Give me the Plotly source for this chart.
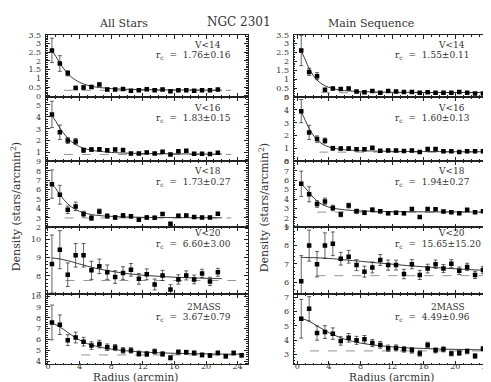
import plotly.graph_objects as go
from plotly.subplots import make_subplots

# radii of the annuli (arcmin)
R_SHORT = [0.5, 1.5, 2.5, 3.5, 4.5, 5.5, 6.5, 7.5, 8.5, 9.5, 10.5, 11.5,
           12.5, 13.5, 14.5, 15.5, 16.5, 17.5, 18.5, 19.5, 20.5, 21.5]
R_LONG = R_SHORT + [22.5, 23.5, 24.5]
# radii where the fitted King curves were read
FIT_R = [0.5, 1, 1.5, 2, 2.5, 3, 3.5, 4, 5, 6, 7, 8, 10, 12, 14, 16, 18, 20, 22]
FIT_R_LONG = FIT_R + [24.5]

# ---- All Stars ----
all_v14 = [2.60, 1.85, 1.29, 0.45, 0.47, 0.50, 0.65, 0.36, 0.36, 0.39, 0.28,
           0.32, 0.37, 0.32, 0.36, 0.26, 0.32, 0.32, 0.28, 0.32, 0.32, 0.36]
all_v14_err = [0.70, 0.45, 0.15, 0.10, 0.10, 0.09, 0.09, 0.07, 0.07, 0.07, 0.06,
               0.06, 0.06, 0.06, 0.06, 0.05, 0.05, 0.05, 0.05, 0.05, 0.05, 0.05]
all_v14_fit = [2.60, 2.25, 1.88, 1.55, 1.28, 1.06, 0.90, 0.77, 0.60, 0.50, 0.45,
               0.41, 0.37, 0.35, 0.34, 0.33, 0.33, 0.32, 0.32]

all_v16 = [4.19, 2.70, 2.02, 1.94, 1.20, 1.26, 1.28, 1.20, 1.26, 1.23, 0.93,
           0.93, 1.02, 0.93, 1.07, 0.85, 1.12, 1.15, 0.91, 0.91, 0.88, 1.00]
all_v16_err = [1.10, 0.60, 0.25, 0.25, 0.18, 0.15, 0.14, 0.13, 0.12, 0.11, 0.10,
               0.10, 0.10, 0.09, 0.09, 0.09, 0.08, 0.08, 0.08, 0.08, 0.08, 0.08]
all_v16_fit = [4.10, 3.60, 3.05, 2.60, 2.20, 1.90, 1.68, 1.50, 1.28, 1.15, 1.08,
               1.02, 0.96, 0.93, 0.91, 0.90, 0.89, 0.88, 0.88]

all_v18 = [6.59, 5.46, 3.87, 4.23, 3.41, 2.99, 3.70, 3.20, 3.06, 3.27, 3.17,
           2.81, 3.06, 3.03, 3.41, 2.38, 3.23, 3.27, 3.10, 3.06, 3.06, 3.45]
all_v18_err = [1.50, 1.00, 0.40, 0.45, 0.30, 0.25, 0.25, 0.22, 0.20, 0.20, 0.18,
               0.17, 0.16, 0.15, 0.15, 0.14, 0.14, 0.13, 0.13, 0.12, 0.12, 0.12]
all_v18_fit = [6.60, 6.10, 5.50, 4.95, 4.50, 4.15, 3.90, 3.70, 3.45, 3.30, 3.22,
               3.17, 3.10, 3.07, 3.05, 3.04, 3.03, 3.03, 3.02]

all_v20 = [8.65, 9.44, 8.06, 9.13, 9.13, 8.30, 8.52, 8.20, 7.93, 8.15, 8.33,
           7.83, 8.08, 7.52, 8.02, 7.24, 7.80, 8.02, 7.80, 8.13, 7.69, 8.19]
all_v20_err = [1.60, 1.05, 0.65, 0.65, 0.65, 0.50, 0.40, 0.40, 0.35, 0.35, 0.35,
               0.30, 0.30, 0.30, 0.28, 0.27, 0.26, 0.25, 0.24, 0.23, 0.23, 0.22]
all_v20_fit = [8.98, 8.96, 8.93, 8.88, 8.83, 8.78, 8.71, 8.65, 8.53, 8.42, 8.33,
               8.25, 8.12, 8.03, 7.97, 7.92, 7.89, 7.86, 7.84]

all_2mass = [7.57, 7.36, 5.94, 6.18, 5.80, 5.44, 5.58, 5.29, 5.26, 5.00, 5.00,
             4.70, 4.67, 4.90, 4.67, 4.31, 4.84, 4.82, 4.76, 4.58, 4.52, 4.76,
             4.46, 4.76, 4.55]
all_2mass_err = [1.60, 0.90, 0.50, 0.50, 0.40, 0.35, 0.35, 0.30, 0.28, 0.26, 0.25,
                 0.24, 0.23, 0.22, 0.21, 0.20, 0.20, 0.19, 0.19, 0.18, 0.18, 0.18,
                 0.17, 0.17, 0.17]
all_2mass_fit = [7.50, 7.35, 7.15, 6.92, 6.65, 6.40, 6.15, 5.95, 5.62, 5.40, 5.24,
                 5.12, 4.95, 4.85, 4.78, 4.73, 4.70, 4.68, 4.66, 4.65]

# ---- Main Sequence ----
ms_v14 = [2.61, 1.41, 1.17, 0.41, 0.47, 0.45, 0.48, 0.30, 0.26, 0.34, 0.24, 0.34,
          0.30, 0.28, 0.28, 0.24, 0.26, 0.24, 0.24, 0.24, 0.28, 0.24, 0.20, 0.20, 0.22]
ms_v14_err = [0.85, 0.20, 0.20, 0.07, 0.07, 0.06, 0.06, 0.05, 0.05, 0.05, 0.05, 0.05,
              0.05, 0.04, 0.04, 0.04, 0.04, 0.04, 0.04, 0.04, 0.04, 0.04, 0.04, 0.04, 0.04]
ms_v14_fit = [2.60, 2.10, 1.60, 1.22, 0.95, 0.76, 0.63, 0.54, 0.42, 0.36, 0.32,
              0.30, 0.28, 0.26, 0.26, 0.25, 0.25, 0.25, 0.25, 0.25]

ms_v16 = [3.90, 2.25, 1.73, 1.61, 1.02, 1.00, 1.00, 0.95, 0.95, 1.05, 0.82, 0.84,
          0.84, 0.80, 0.84, 0.72, 0.96, 0.96, 0.78, 0.78, 0.72, 0.78, 0.78, 0.78, 0.80]
ms_v16_err = [0.90, 0.55, 0.25, 0.20, 0.15, 0.13, 0.12, 0.11, 0.10, 0.10, 0.09, 0.09,
              0.09, 0.08, 0.08, 0.08, 0.08, 0.08, 0.07, 0.07, 0.07, 0.07, 0.07, 0.07, 0.07]
ms_v16_fit = [3.85, 3.20, 2.55, 2.05, 1.68, 1.42, 1.24, 1.12, 0.98, 0.90, 0.86,
              0.83, 0.80, 0.78, 0.77, 0.76, 0.76, 0.75, 0.75, 0.75]

ms_v18 = [5.62, 4.51, 3.48, 3.76, 3.06, 2.38, 3.31, 2.72, 2.55, 2.86, 2.72, 2.51,
          2.55, 2.51, 2.96, 2.10, 2.96, 2.92, 2.69, 2.62, 2.51, 2.86, 2.62, 2.72, 2.69]
ms_v18_err = [1.35, 0.80, 0.35, 0.35, 0.30, 0.25, 0.25, 0.22, 0.20, 0.20, 0.18, 0.17,
              0.16, 0.16, 0.15, 0.15, 0.14, 0.14, 0.13, 0.13, 0.13, 0.12, 0.12, 0.12, 0.12]
ms_v18_fit = [5.60, 5.20, 4.70, 4.20, 3.80, 3.50, 3.30, 3.15, 2.97, 2.86, 2.80,
              2.75, 2.70, 2.67, 2.66, 2.65, 2.64, 2.64, 2.63, 2.63]

ms_v20 = [6.05, 8.00, 6.98, 8.00, 8.10, 7.28, 7.39, 6.93, 6.57, 6.80, 7.21, 6.93,
          6.93, 6.44, 6.98, 6.39, 6.74, 6.98, 6.74, 7.01, 6.62, 6.83, 6.39, 6.66, 6.53]
ms_v20_err = [1.40, 0.85, 0.70, 0.70, 0.65, 0.35, 0.35, 0.30, 0.30, 0.30, 0.30, 0.28,
              0.27, 0.26, 0.25, 0.25, 0.24, 0.23, 0.22, 0.22, 0.21, 0.20, 0.20, 0.20, 0.20]
ms_v20_fit = [7.35, 7.35, 7.34, 7.34, 7.33, 7.32, 7.31, 7.30, 7.26, 7.22, 7.18,
              7.14, 7.06, 6.98, 6.90, 6.84, 6.78, 6.73, 6.68, 6.63]

ms_2mass = [5.50, 6.20, 4.50, 4.57, 4.46, 3.95, 4.17, 3.99, 4.06, 3.80, 3.67, 3.44,
            3.46, 3.36, 3.29, 3.07, 3.67, 3.29, 3.36, 3.07, 3.11, 3.22, 2.89, 3.40, 3.29]
ms_2mass_err = [1.35, 0.85, 0.50, 0.45, 0.40, 0.30, 0.30, 0.28, 0.27, 0.25, 0.24, 0.22,
                0.21, 0.20, 0.20, 0.19, 0.19, 0.18, 0.18, 0.17, 0.17, 0.17, 0.16, 0.16, 0.16]
ms_2mass_fit = [5.50, 5.44, 5.32, 5.17, 5.00, 4.84, 4.68, 4.53, 4.28, 4.07, 3.92,
                3.80, 3.64, 3.53, 3.46, 3.42, 3.38, 3.36, 3.34, 3.32]

# background levels (dashed) and their radial extent
all_bg = [0.31, 0.85, 3.00, 7.74, 4.58]
all_bg_from = [2.0, 2.0, 2.1, 2.2, 4.2]
all_bg_to = [23.2, 23.2, 23.2, 23.8, 24.9]
ms_bg = [0.24, 0.72, 2.62, 6.35, 3.25]
ms_bg_from = [3.0, 2.8, 2.5, 2.4, 1.6]
ms_bg_to = [25.0, 25.0, 25.0, 25.0, 25.0]

labels = ["V<14", "V<16", "V<18", "V<20", "2MASS"]
all_rc = ["1.76±0.16", "1.83±0.15", "1.73±0.27", "6.60±3.00", "3.67±0.79"]
ms_rc = ["1.55±0.11", "1.60±0.13", "1.94±0.27", "15.65±15.20", "4.49±0.96"]

all_yrange = [[-0.07, 3.5], [0.27, 5.65], [2, 9], [7, 10.67], [3.7, 10.2]]
ms_yrange = [[0, 3.5], [0, 5], [1, 8], [5.35, 9], [2.3, 7.24]]
y_dtick = [0.5, 1, 1, 1, 1]
y_minor = [0.1, 0.2, 0.2, 0.2, 0.2]

W, H = 491, 382
FONT = "DejaVu Serif"
INK = "#222"
TXT = "#333"

panels = [
    [(R_SHORT, all_v14, all_v14_err, FIT_R, all_v14_fit),
     (R_LONG, ms_v14, ms_v14_err, FIT_R_LONG, ms_v14_fit)],
    [(R_SHORT, all_v16, all_v16_err, FIT_R, all_v16_fit),
     (R_LONG, ms_v16, ms_v16_err, FIT_R_LONG, ms_v16_fit)],
    [(R_SHORT, all_v18, all_v18_err, FIT_R, all_v18_fit),
     (R_LONG, ms_v18, ms_v18_err, FIT_R_LONG, ms_v18_fit)],
    [(R_SHORT, all_v20, all_v20_err, FIT_R, all_v20_fit),
     (R_LONG, ms_v20, ms_v20_err, FIT_R_LONG, ms_v20_fit)],
    [(R_LONG, all_2mass, all_2mass_err, FIT_R_LONG, all_2mass_fit),
     (R_LONG, ms_2mass, ms_2mass_err, FIT_R_LONG, ms_2mass_fit)],
]

# pixel geometry of the frames
col_px = [(37.7, 239.5), (285.5, 488.0)]
col_xrange = [[-0.29, 25.25], [-0.48, 25.15]]
row_px = [23.3, 87.0, 153.0, 220.6, 288.7, 361.0]
v_off = [10, 11, 10, 6, 13.5]
rc_off = [21.5, 22, 21.5, 17, 24]


def label(x, y, text, size, anchor="center", angle=0):
    fig.add_annotation(x=x / W, y=1 - y / H, xref="paper", yref="paper", text=text,
                       showarrow=False, xanchor=anchor, yanchor="middle",
                       textangle=angle, borderpad=0,
                       font=dict(family=FONT, size=size, color=TXT))


fig = make_subplots(rows=5, cols=2, vertical_spacing=0, horizontal_spacing=0.05)

for i in range(5):
    for j in range(2):
        r, v, e, fr, fv = panels[i][j]
        bg = (all_bg if j == 0 else ms_bg)[i]
        bg_from = (all_bg_from if j == 0 else ms_bg_from)[i]
        bg_to = (all_bg_to if j == 0 else ms_bg_to)[i]
        fig.add_trace(go.Scatter(x=[bg_from, bg_to], y=[bg, bg], mode="lines",
                                 line=dict(color="#777", width=0.8, dash="dash"),
                                 showlegend=False), row=i + 1, col=j + 1)
        fig.add_trace(go.Scatter(x=fr, y=fv, mode="lines", line_shape="spline",
                                 line=dict(color=INK, width=0.9), showlegend=False),
                      row=i + 1, col=j + 1)
        fig.add_trace(go.Scatter(x=r, y=v, mode="markers",
                                 marker=dict(symbol="square", size=4.5, color="black"),
                                 error_y=dict(type="data", array=e, color=INK,
                                              thickness=0.7, width=2),
                                 showlegend=False), row=i + 1, col=j + 1)

        n = i * 2 + j + 1
        xd = [col_px[j][0] / W, col_px[j][1] / W]
        yd = [1 - row_px[i + 1] / H, 1 - row_px[i] / H]
        axis_common = dict(showline=True, linecolor=INK, linewidth=0.8, mirror="allticks",
                           ticks="inside", tickcolor=INK, tickwidth=0.8, ticklen=4,
                           showgrid=False, zeroline=False,
                           tickfont=dict(family=FONT, size=8, color=TXT))
        fig.update_layout({
            f"xaxis{n}": dict(domain=xd, range=col_xrange[j], dtick=4, tick0=0,
                              showticklabels=(i == 4), ticklabelstandoff=-6,
                              minor=dict(ticks="inside", ticklen=2, dtick=1,
                                         tickcolor=INK, tickwidth=0.7),
                              **axis_common),
            f"yaxis{n}": dict(domain=yd,
                              range=(all_yrange if j == 0 else ms_yrange)[i],
                              dtick=y_dtick[i], tick0=0, ticklabelstandoff=2,
                              minor=dict(ticks="inside", ticklen=2, dtick=y_minor[i],
                                         tickcolor=INK, tickwidth=0.7),
                              **axis_common),
        })

        # V-limit label and core radius
        rc_txt = (all_rc if j == 0 else ms_rc)[i]
        label([214, 458][j], row_px[i] + v_off[i], labels[i], 9, anchor="right")
        label([147, 386][j], row_px[i] + rc_off[i],
              f"r<sub>c</sub>  =  {rc_txt}", 9, anchor="left")

label(115, 11.5, "All Stars", 11)
label(231, 10, "NGC 2301", 12)
label(363, 11.5, "Main Sequence", 11)

for x in (128, 383):
    label(x, 373.5, "Radius (arcmin)", 10.5)
for x in (8, 256):
    label(x, 200, "Density (stars/arcmin<sup>2</sup>)", 11, angle=-90)

fig.update_layout(width=W, height=H, margin=dict(l=0, r=0, t=0, b=0),
                  paper_bgcolor="white", plot_bgcolor="white", showlegend=False)

fig.write_html("out.html")
